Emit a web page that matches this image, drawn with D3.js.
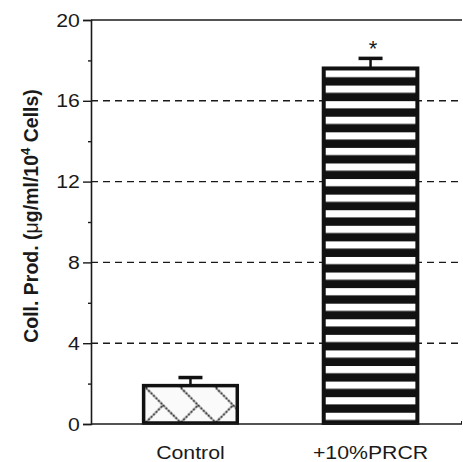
<!DOCTYPE html>
<html>
<head>
<meta charset="utf-8">
<script src="https://cdn.jsdelivr.net/npm/d3@7"></script>
<style>
  html, body { margin: 0; padding: 0; background: #fff; }
  svg { display: block; font-family: "Liberation Sans", Arial, sans-serif; }
</style>
</head>
<body>
<svg id="chart" width="463" height="462"></svg>
<script>
// ---- data ----
const categories = ["Control", "+10%PRCR"];
const means = [1.9, 17.6];
const errTops = [2.3, 18.1];
const marks = ["", "*"];
const majorTicks = [0, 4, 8, 12, 16, 20];
const minorTicks = [2, 6, 10, 14, 18];
const gridValues = [4, 8, 12, 16];

const svg = d3.select("#chart");
const ink = "#1a1a1a";

const y = d3.scaleLinear().domain([0, 20]).range([424, 20]);
const x = d3.scaleBand().domain(categories).range([95, 466])
  .paddingInner(0.48).paddingOuter(0.27);
const xL = 91, xR = 462;

// patterns
const defs = svg.append("defs");
const pz = defs.append("pattern").attr("id", "zig")
  .attr("patternUnits", "userSpaceOnUse")
  .attr("x", x("Control") + 2).attr("y", y(means[0]) + 2)
  .attr("width", 35).attr("height", 35);
pz.append("rect").attr("width", 35).attr("height", 35).attr("fill", "#fafafa");
pz.append("path").attr("d", "M0,0 L35,35 M-35,0 L0,35 M0,35 L17.5,17.5 M35,35 L52.5,17.5")
  .attr("stroke", "#222").attr("stroke-width", 1.8).attr("fill", "none")
  .attr("stroke-dasharray", "2.5,1");

const stripeH = 15.58;
const ps = defs.append("pattern").attr("id", "stripes")
  .attr("patternUnits", "userSpaceOnUse")
  .attr("x", 0).attr("y", 70)
  .attr("width", 463).attr("height", stripeH);
ps.append("rect").attr("width", 463).attr("height", stripeH).attr("fill", "#111");
ps.append("rect").attr("width", 463).attr("height", 7.2).attr("fill", "#fff");

// gridlines
svg.append("g").selectAll("line").data(gridValues).join("line")
  .attr("x1", xL).attr("x2", 460)
  .attr("y1", d => y(d)).attr("y2", d => y(d))
  .attr("stroke", ink).attr("stroke-width", 1.4)
  .attr("stroke-dasharray", "7,5");

// top line
svg.append("line").attr("x1", xL).attr("x2", xR)
  .attr("y1", y(20)).attr("y2", y(20))
  .attr("stroke", ink).attr("stroke-width", 1.6);

// bars
const fills = ["url(#zig)", "url(#stripes)"];
const bw = [3.5, 4];
svg.append("g").selectAll("rect").data(categories).join("rect")
  .attr("x", d => x(d))
  .attr("width", x.bandwidth())
  .attr("y", (d, i) => y(means[i]))
  .attr("height", (d, i) => y(0) - y(means[i]) - 1)
  .attr("fill", (d, i) => fills[i])
  .attr("stroke", "#111")
  .attr("stroke-width", (d, i) => bw[i]);

// error bars
const eb = svg.append("g");
categories.forEach((c, i) => {
  const cx = x(c) + x.bandwidth() / 2;
  eb.append("line").attr("x1", cx).attr("x2", cx)
    .attr("y1", y(means[i])).attr("y2", y(errTops[i]))
    .attr("stroke", "#111").attr("stroke-width", 2.5);
  eb.append("line").attr("x1", cx - 12).attr("x2", cx + 12)
    .attr("y1", y(errTops[i])).attr("y2", y(errTops[i]))
    .attr("stroke", "#111").attr("stroke-width", 3.5);
  if (marks[i]) {
    eb.append("text").attr("x", cx + 2.5).attr("y", y(errTops[i]) - 2)
      .attr("text-anchor", "middle").attr("font-size", 22)
      .attr("fill", ink).text(marks[i]);
  }
});

// x axis baseline
svg.append("line").attr("x1", xL).attr("x2", xR)
  .attr("y1", y(0)).attr("y2", y(0))
  .attr("stroke", ink).attr("stroke-width", 1.6);
svg.append("line").attr("x1", xR - 0.5).attr("x2", xR - 0.5)
  .attr("y1", y(0)).attr("y2", y(0) - 3)
  .attr("stroke", ink).attr("stroke-width", 1);

// x labels (slightly widened like the reference)
svg.append("g").selectAll("text").data(categories).join("text")
  .attr("transform", d => `translate(${x(d) + x.bandwidth() / 2},459) scale(1.12,1)`)
  .attr("text-anchor", "middle")
  .attr("font-size", 19)
  .attr("fill", ink)
  .text(d => d);

// y axis
const yAxis = d3.axisLeft(y).tickValues(majorTicks).tickSize(8).tickPadding(2)
  .tickFormat(d3.format("d"));
const ga = svg.append("g").attr("transform", `translate(${xL},0)`).call(yAxis);
ga.select(".domain").attr("stroke", ink).attr("stroke-width", 1.6);
ga.selectAll(".tick line").attr("stroke", ink).attr("stroke-width", 1.4);
ga.selectAll(".tick text").attr("font-size", 19).attr("fill", ink)
  .attr("font-family", "Liberation Sans, Arial, sans-serif")
  .attr("transform", "scale(1.12,1)");

const yMinor = d3.axisLeft(y).tickValues(minorTicks).tickSize(3).tickFormat("");
const gm = svg.append("g").attr("transform", `translate(${xL},0)`).call(yMinor);
gm.select(".domain").remove();
gm.selectAll(".tick line").attr("stroke", ink).attr("stroke-width", 1.4);

// y label
const yl = svg.append("text")
  .attr("transform", "translate(38,216) rotate(-90)")
  .attr("text-anchor", "middle")
  .attr("font-size", 19.5).attr("font-weight", "bold").attr("fill", ink);
yl.append("tspan").text("Coll. Prod. (");
yl.append("tspan").attr("font-weight", "normal").text("\u03bc");
yl.append("tspan").text("g/ml/10");
yl.append("tspan").attr("font-size", 13).attr("dy", -8).text("4");
yl.append("tspan").attr("dy", 8).text(" Cells)");
</script>
</body>
</html>
